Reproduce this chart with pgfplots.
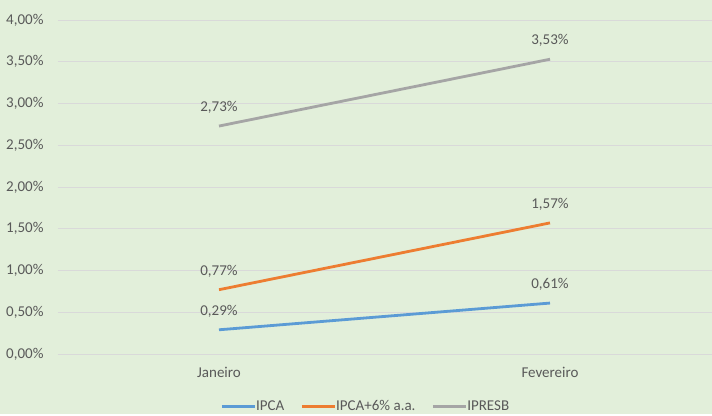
\documentclass[border=0pt]{standalone}
\usepackage{pgfplots}
\pgfplotsset{compat=1.18}
\usepackage{fontspec}
\setmainfont{Carlito}
\definecolor{bgc}{HTML}{E2EFDA}
\definecolor{gridc}{HTML}{D9D9D9}
\definecolor{txt}{HTML}{595959}
\definecolor{cblue}{HTML}{5B9BD5}
\definecolor{corange}{HTML}{ED7D31}
\definecolor{cgray}{HTML}{A5A5A5}
\begin{document}
\begin{tikzpicture}
\fill[bgc] (0,0) rectangle (712pt,414pt);
\begin{axis}[
  at={(58pt,60pt)}, anchor=south west,
  scale only axis, width=653.5pt, height=334pt,
  xmin=-0.4864, xmax=1.4879, ymin=0, ymax=4,
  xtick={0,1}, xticklabels={Janeiro,Fevereiro},
  ytick={0,0.5,...,4},
  xmajorgrids=false, ymajorgrids=true,
  y grid style={draw=gridc, line width=1pt},
  axis line style={draw=none}, major tick length=0pt,
  tick style={draw=none},
  font=\fontsize{15}{17}\selectfont, text=txt,
  /pgf/number format/assume math mode=true,
  /pgf/number format/.cd, use comma, fixed, fixed zerofill, precision=2, 1000 sep={},
  /pgfplots/.cd,
  yticklabel={\pgfmathprintnumber{\tick}\%},
  yticklabel style={xshift=-11pt},
  xticklabel style={yshift=-10pt},
  nodes near coords={\pgfmathprintnumber{\pgfplotspointmeta}\%},
  nodes near coords style={text=txt, font=\fontsize{15}{17}\selectfont, yshift=8pt},
  legend columns=3,
  legend style={at={(0.471,-0.156)}, anchor=center, draw=none, fill=none,
    font=\fontsize{15}{17}\selectfont, text=txt,
    /tikz/every odd column/.append style={column sep=-2pt},
    /tikz/every even column/.append style={column sep=14pt}},
  legend image code/.code={\draw[#1, line width=2.8pt] (0pt,0pt) -- (33pt,0pt);},
]
\addplot[cblue, line width=2.8pt, mark=none] coordinates {(0,0.29) (1,0.61)};
\addlegendentry{IPCA}
\addplot[corange, line width=2.8pt, mark=none] coordinates {(0,0.77) (1,1.57)};
\addlegendentry{IPCA+6\% a.a.}
\addplot[cgray, line width=2.8pt, mark=none] coordinates {(0,2.73) (1,3.53)};
\addlegendentry{IPRESB}
\end{axis}
\end{tikzpicture}
\end{document}
